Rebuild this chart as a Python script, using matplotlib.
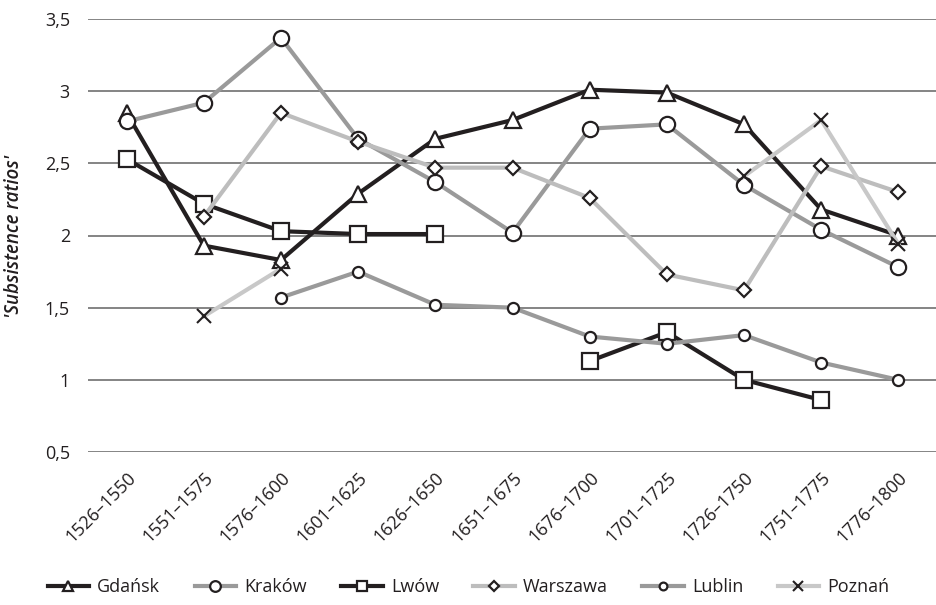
import numpy as np
import matplotlib.pyplot as plt

nan = np.nan

periods = ["1526–1550", "1551–1575", "1576–1600", "1601–1625", "1626–1650",
           "1651–1675", "1676–1700", "1701–1725", "1726–1750", "1751–1775",
           "1776–1800"]

gdansk = [2.85, 1.93, 1.83, 2.29, 2.67, 2.80, 3.01, 2.99, 2.77, 2.18, 2.00]
krakow = [2.79, 2.92, 3.37, 2.67, 2.37, 2.02, 2.74, 2.77, 2.35, 2.04, 1.78]
lwow = [2.53, 2.22, 2.03, 2.01, 2.01, nan, 1.13, 1.33, 1.00, 0.86, nan]
warszawa = [nan, 2.13, 2.85, 2.65, 2.47, 2.47, 2.26, 1.73, 1.62, 2.48, 2.30]
lublin = [nan, nan, 1.57, 1.75, 1.52, 1.50, 1.30, 1.25, 1.31, 1.12, 1.00]
poznan = [nan, 1.44, 1.77, nan, nan, nan, nan, nan, 2.41, 2.80, 1.94]

dark = "#231f20"
series = [
    ("Gdańsk", gdansk, dark, "^", 11),
    ("Kraków", krakow, "#9a9a9a", "o", 11),
    ("Lwów", lwow, dark, "s", 11),
    ("Warszawa", warszawa, "#bdbdbd", "D", 7),
    ("Lublin", lublin, "#9a9a9a", "o", 8),
    ("Poznań", poznan, "#c8c8c8", "x", 10),
]

plt.rcParams['font.family'] = ['Open Sans', 'DejaVu Sans']

fig = plt.figure(figsize=(9.37, 6.05), dpi=100)
ax = fig.add_axes([88 / 937, 1 - 452 / 605, 1 - 88 / 937, (452 - 19) / 605])

x = np.arange(len(periods))
for name, vals, col, mk, ms in series:
    if mk == "x":
        ax.plot(x, vals, color=col, lw=3, marker=mk, ms=ms, mec=dark,
                mew=1.5, label=name)
    else:
        ax.plot(x, vals, color=col, lw=3, marker=mk, ms=ms, mfc="white",
                mec=dark, mew=1.6, label=name)

ax.set_xlim(-0.5, len(periods) - 0.5)
ax.set_ylim(0.5, 3.5)
ax.set_yticks([0.5, 1, 1.5, 2, 2.5, 3, 3.5])
ax.set_yticklabels(["0,5", "1", "1,5", "2", "2,5", "3", "3,5"])
ax.yaxis.grid(True, color="#707070", lw=1.2)
ax.set_axisbelow(True)
for s in ax.spines.values():
    s.set_visible(False)
ax.tick_params(axis="both", length=0, labelsize=13, colors="#231f20")
ax.tick_params(axis="y", pad=13)
ax.set_xticks(x)
ax.set_xticklabels(periods, rotation=45, ha="right", rotation_mode="anchor")
ax.tick_params(axis="x", pad=12)

fig.text(14 / 937, 1 - 236 / 605, "'Subsistence ratios'", rotation=90,
         ha="center", va="center", fontsize=13.5, style="italic",
         fontweight="semibold", color="#231f20")

fig.legend(loc="center", bbox_to_anchor=(0.5, 1 - 587 / 605), ncol=6,
           frameon=False, fontsize=13, handlelength=2.3, columnspacing=1.9,
           handletextpad=0.45, markerscale=0.7, labelcolor="#231f20")

fig.savefig("out.png", dpi=100)
